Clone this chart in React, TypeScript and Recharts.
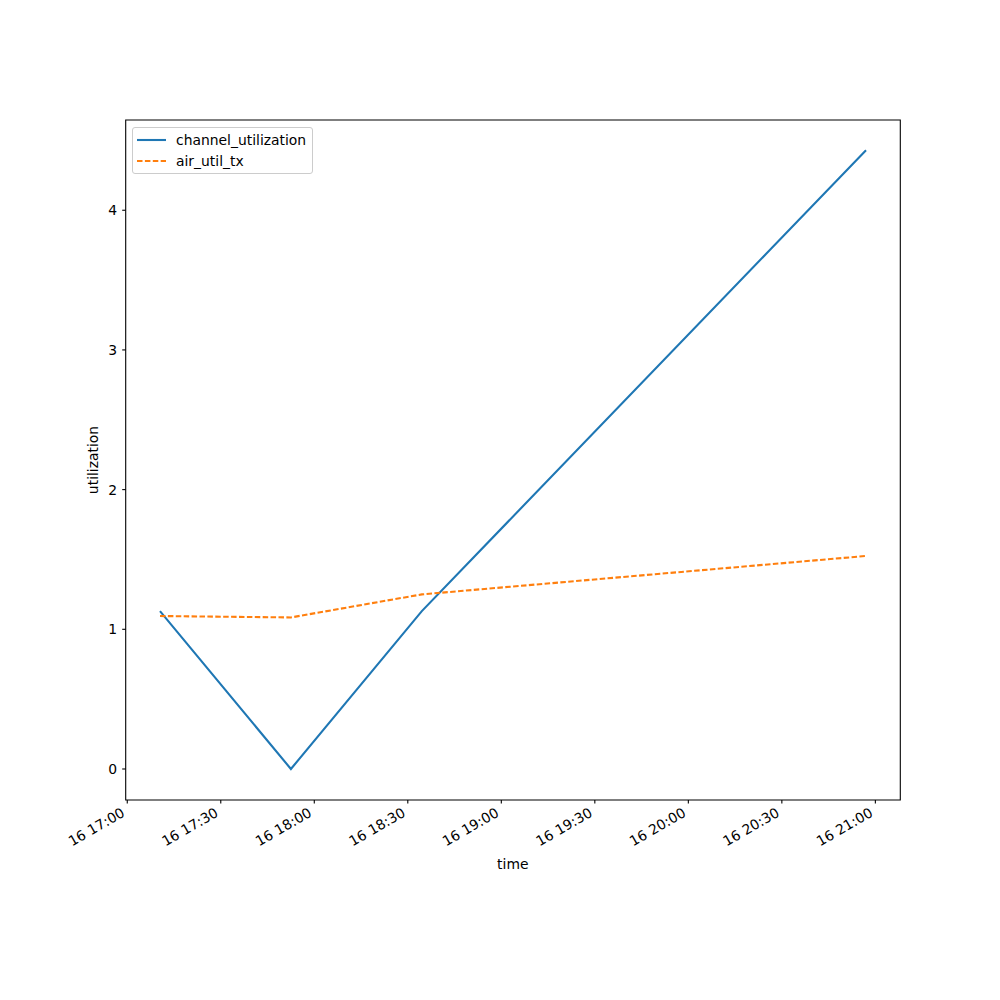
import React from "react";
import {
  LineChart,
  Line,
  XAxis,
  YAxis,
  Label,
  ReferenceArea,
} from "recharts";

// sample times (day 16), and the two series
const timeLabels = ["17:10:30", "17:52:30", "18:34:30", "20:57:00"];
const channelUtilization = [1.13, 0, 1.13, 4.43];
const airUtilTx = [1.095, 1.085, 1.25, 1.525];

const xTickLabels = [
  "17:00", "17:30", "18:00", "18:30", "19:00",
  "19:30", "20:00", "20:30", "21:00",
];
const yTicks = [0, 1, 2, 3, 4];

const BASE = Date.UTC(2024, 0, 16, 0, 0, 0);
const toMs = (s: string) => {
  const [h, m, sec] = s.split(":").map(Number);
  return BASE + ((h * 60 + m) * 60 + (sec || 0)) * 1000;
};
const pad = (n: number) => String(n).padStart(2, "0");
const fmt = (ms: number) => {
  const d = new Date(ms);
  return `16 ${pad(d.getUTCHours())}:${pad(d.getUTCMinutes())}`;
};

const data = timeLabels.map((t, i) => ({
  t: toMs(t),
  channel_utilization: channelUtilization[i],
  air_util_tx: airUtilTx[i],
}));

const xTicks = xTickLabels.map(toMs);
const xDomain = [toMs("16:59:30"), toMs("21:08:00")];
const yDomain = [-0.222, 4.646];

const FONT = "DejaVu Sans";
const BLUE = "#1f77b4";
const ORANGE = "#ff7f0e";

const XTick = (props: any) => {
  const { x, y, payload } = props;
  const ax = x - 1.5;
  const ay = y + 12;
  return (
    <text
      x={ax}
      y={ay}
      textAnchor="end"
      transform={`rotate(-30, ${ax}, ${ay})`}
      fontFamily={FONT}
      fontSize={13.9}
      fill="#000"
    >
      {fmt(payload.value)}
    </text>
  );
};

const LegendBox = () => (
  <div
    style={{
      position: "absolute",
      left: 132,
      top: 127,
      width: 179,
      height: 45,
      border: "1px solid #cccccc",
      borderRadius: 3,
      background: "rgba(255,255,255,0.8)",
      fontFamily: FONT,
      fontSize: 13.9,
      color: "#000",
    }}
  >
    {[
      { name: "channel_utilization", color: BLUE, dash: undefined },
      { name: "air_util_tx", color: ORANGE, dash: "5.5 2.4" },
    ].map((item, i) => (
      <div
        key={item.name}
        style={{
          position: "absolute",
          left: 4,
          top: 3 + i * 21,
          height: 18,
          display: "flex",
          alignItems: "center",
          whiteSpace: "nowrap",
        }}
      >
        <svg width={30} height={18} style={{ display: "block" }}>
          <line
            x1={0}
            y1={9}
            x2={29}
            y2={9}
            stroke={item.color}
            strokeWidth={2.1}
            strokeDasharray={item.dash}
          />
        </svg>
        <span style={{ marginLeft: 9 }}>{item.name}</span>
      </div>
    ))}
  </div>
);

export default function App() {
  return (
    <div
      style={{
        position: "absolute",
        left: 0,
        top: 0,
        width: 1000,
        height: 1000,
        background: "#fff",
      }}
    >
      <LineChart
        width={1000}
        height={1000}
        data={data}
        margin={{ top: 120, right: 99.7, bottom: 0, left: 0 }}
      >
        <XAxis
          dataKey="t"
          type="number"
          scale="linear"
          domain={xDomain}
          ticks={xTicks}
          allowDataOverflow
          height={200}
          axisLine={false}
          tickSize={3.5}
          tickMargin={0}
          tickLine={{ stroke: "#000", strokeWidth: 1.1 }}
          tick={<XTick />}
          interval={0}
        >
          <Label
            content={() => (
              <text
                x={512.8}
                y={869}
                textAnchor="middle"
                fontFamily={FONT}
                fontSize={13.9}
                fill="#000"
              >
                time
              </text>
            )}
          />
        </XAxis>
        <YAxis
          type="number"
          domain={yDomain}
          ticks={yTicks}
          allowDataOverflow
          width={125.7}
          axisLine={false}
          tickSize={3.5}
          tickMargin={5}
          tickLine={{ stroke: "#000", strokeWidth: 1.1 }}
          tick={{ fill: "#000", fontFamily: FONT, fontSize: 13.9 }}
          interval={0}
        >
          <Label
            content={() => (
              <text
                x={98}
                y={460}
                textAnchor="middle"
                transform="rotate(-90, 98, 460)"
                fontFamily={FONT}
                fontSize={13.9}
                fill="#000"
              >
                utilization
              </text>
            )}
          />
        </YAxis>
        <ReferenceArea
          x1={xDomain[0]}
          x2={xDomain[1]}
          y1={yDomain[0]}
          y2={yDomain[1]}
          fill="none"
          stroke="#000"
          strokeWidth={1.1}
          ifOverflow="visible"
        />
        <Line
          type="linear"
          dataKey="channel_utilization"
          stroke={BLUE}
          strokeWidth={2.1}
          dot={false}
          activeDot={false}
          isAnimationActive={false}
        />
        <Line
          type="linear"
          dataKey="air_util_tx"
          stroke={ORANGE}
          strokeWidth={2.1}
          strokeDasharray="5.5 2.4"
          dot={false}
          activeDot={false}
          isAnimationActive={false}
        />
      </LineChart>
      <LegendBox />
    </div>
  );
}
